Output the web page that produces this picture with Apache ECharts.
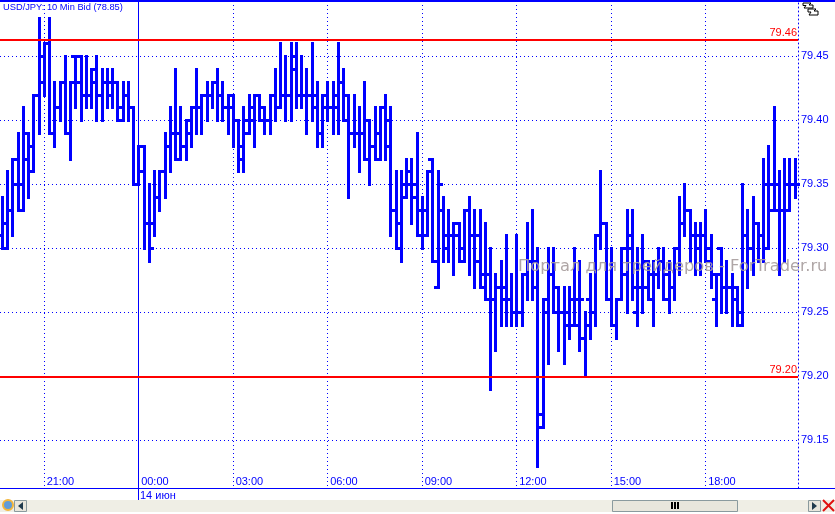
<!DOCTYPE html>
<html><head><meta charset="utf-8">
<style>html,body{margin:0;padding:0;background:#fff}#c{width:835px;height:514px}</style>
<script src="https://cdn.jsdelivr.net/npm/echarts@6/dist/echarts.min.js"></script>
</head><body><div id="c"></div>
<script>
const chartTitle = 'USD/JPY: 10 Min Bid (78.85)';
const watermark = 'Портал для трейдеров - ForTrader.ru';
const dateLabel = '14 июн';
const priceTicks = [79.15, 79.20, 79.25, 79.30, 79.35, 79.40, 79.45];
const timeTicks = ['21:00','00:00','03:00','06:00','09:00','12:00','15:00','18:00'];
const redLevels = [79.463, 79.199];
const redLabels = ['79.46', '79.20'];
const highs = [
79.34,79.36,79.37,79.39,79.41,79.39,79.42,79.48,79.46,79.48,79.43,79.43,79.45,79.43,79.45,79.45,79.45,79.44,79.45,79.44,
79.44,79.44,79.43,79.43,79.43,79.41,79.38,79.38,79.35,79.36,79.36,79.39,79.41,79.44,79.41,79.40,79.41,79.44,79.42,79.43,
79.43,79.44,79.43,79.42,79.42,79.40,79.41,79.42,79.42,79.42,79.41,79.42,79.44,79.46,79.45,79.46,79.46,79.45,79.44,79.46,
79.43,79.42,79.43,79.43,79.46,79.44,79.42,79.42,79.41,79.43,79.40,79.41,79.41,79.42,79.41,79.36,79.36,79.37,79.37,79.39,
79.34,79.36,79.37,79.36,79.34,79.33,79.32,79.32,79.33,79.34,79.33,79.33,79.32,79.30,79.28,79.29,79.31,79.28,79.31,79.28,
79.32,79.33,79.30,79.26,79.30,79.30,79.27,79.27,79.27,79.30,79.29,79.25,79.28,79.31,79.36,79.32,79.30,79.26,79.30,79.33,
79.33,79.30,79.31,79.29,79.29,79.30,79.30,79.29,79.30,79.34,79.35,79.33,79.32,79.32,79.33,79.31,79.28,79.30,79.29,79.28,
79.27,79.35,79.33,79.34,79.32,79.37,79.38,79.41,79.36,79.37,79.37,79.37];
const lows = [
79.30,79.30,79.31,79.33,79.33,79.34,79.36,79.39,79.42,79.39,79.38,79.40,79.39,79.37,79.41,79.40,79.41,79.41,79.40,79.40,
79.41,79.41,79.40,79.40,79.40,79.35,79.35,79.30,79.29,79.31,79.33,79.34,79.36,79.37,79.37,79.37,79.38,79.39,79.39,79.40,
79.41,79.40,79.40,79.39,79.38,79.36,79.36,79.39,79.38,79.40,79.39,79.39,79.40,79.41,79.40,79.40,79.41,79.41,79.39,79.40,
79.38,79.38,79.40,79.39,79.39,79.40,79.34,79.38,79.36,79.37,79.35,79.37,79.37,79.37,79.31,79.30,79.29,79.34,79.32,79.31,
79.30,79.31,79.29,79.27,79.29,79.29,79.28,79.29,79.29,79.28,79.27,79.27,79.26,79.19,79.22,79.24,79.24,79.24,79.24,79.24,
79.26,79.26,79.13,79.16,79.21,79.25,79.22,79.21,79.23,79.24,79.22,79.20,79.23,79.24,79.30,79.26,79.24,79.23,79.26,79.25,
79.26,79.24,79.25,79.26,79.24,79.27,79.26,79.25,79.26,79.28,79.31,79.29,79.28,79.28,79.29,79.27,79.24,79.25,79.25,79.24,
79.24,79.24,79.27,79.28,79.29,79.29,79.30,79.33,79.28,79.29,79.33,79.34];
const opens = [
79.31,79.30,79.33,79.37,79.33,79.37,79.36,79.42,79.43,79.46,79.39,79.41,79.43,79.39,79.45,79.45,79.42,79.42,79.44,79.42,
79.43,79.42,79.43,79.40,79.42,79.41,79.35,79.36,79.32,79.32,79.34,79.36,79.38,79.39,79.39,79.38,79.40,79.41,79.41,79.42,
79.42,79.43,79.42,79.41,79.41,79.40,79.38,79.39,79.41,79.42,79.40,79.40,79.42,79.41,79.42,79.42,79.44,79.42,79.42,79.42,
79.42,79.39,79.42,79.41,79.42,79.43,79.40,79.39,79.39,79.39,79.40,79.38,79.39,79.41,79.38,79.33,79.32,79.34,79.35,79.34,
79.33,79.31,79.37,79.27,79.33,79.30,79.31,79.31,79.29,79.33,79.31,79.31,79.28,79.28,79.26,79.27,79.27,79.26,79.25,79.25,
79.28,79.29,79.29,79.17,79.26,79.28,79.25,79.25,79.24,79.26,79.26,79.23,79.26,79.25,79.31,79.32,79.26,79.24,79.26,79.28,
79.31,79.25,79.27,79.27,79.28,79.28,79.29,79.26,79.27,79.30,79.32,79.33,79.31,79.31,79.31,79.29,79.26,79.30,79.27,79.27,
79.26,79.24,79.31,79.30,79.32,79.31,79.30,79.33,79.33,79.33,79.33,79.35];
const closes = [
79.32,79.33,79.35,79.35,79.39,79.38,79.42,79.45,79.46,79.39,79.41,79.43,79.39,79.43,79.43,79.42,79.42,79.43,79.42,79.43,
79.43,79.43,79.41,79.42,79.41,79.35,79.38,79.32,79.30,79.34,79.36,79.38,79.39,79.37,79.38,79.39,79.41,79.41,79.42,79.42,
79.43,79.42,79.41,79.42,79.40,79.37,79.40,79.40,79.42,79.41,79.40,79.42,79.41,79.42,79.42,79.45,79.42,79.42,79.42,79.41,
79.39,79.41,79.41,79.41,79.43,79.42,79.39,79.39,79.39,79.37,79.38,79.37,79.41,79.40,79.33,79.30,79.35,79.36,79.35,79.31,
79.33,79.36,79.29,79.35,79.31,79.31,79.32,79.30,79.33,79.31,79.29,79.27,79.26,79.26,79.27,79.26,79.26,79.25,79.25,79.28,
79.29,79.27,79.16,79.25,79.28,79.27,79.25,79.25,79.24,79.24,79.26,79.24,79.25,79.31,79.32,79.26,79.24,79.26,79.30,79.30,
79.27,79.27,79.29,79.26,79.28,79.29,79.28,79.27,79.30,79.32,79.33,79.31,79.30,79.31,79.30,79.28,79.28,79.27,79.27,79.27,
79.25,79.31,79.30,79.32,79.31,79.35,79.35,79.35,79.33,79.35,79.35,79.35];

// Categories: 10-minute bars starting at 19:40.
const categories = [];
for (let i = 0; i < highs.length; i++) {
  const m = (19 * 60 + 40 + i * 10) % 1440;
  categories.push(String(Math.floor(m / 60)).padStart(2, '0') + ':' + String(m % 60).padStart(2, '0'));
}
const BLUE = '#0000ff', RED = '#ff0000', FONT = '"Liberation Sans", Arial, sans-serif';
const barData = highs.map((h, i) => [i, opens[i], h, lows[i], closes[i]]);
const DOT = [1, 3];

const chart = echarts.init(document.getElementById('c'), null, {renderer: 'canvas', width: 835, height: 514});
chart.setOption({
  animation: false,
  backgroundColor: '#ffffff',
  grid: {left: 0, right: 37, top: 1, bottom: 26, containLabel: false},
  xAxis: {
    type: 'category', data: categories, boundaryGap: true, position: 'bottom',
    axisLine: {show: false}, axisTick: {show: false},
    axisLabel: {
      inside: true, margin: 1, align: 'left', padding: [0, 0, 0, 2],
      color: BLUE, fontFamily: FONT, fontSize: 11, hideOverlap: false,
      interval: (i, v) => timeTicks.includes(v)
    },
    splitLine: {show: false}
  },
  yAxis: {
    type: 'value', position: 'right', min: 79.1125, max: 79.4932, scale: true,
    axisLine: {show: true, onZero: false, lineStyle: {color: BLUE, type: DOT, width: 1}},
    axisTick: {show: false},
    axisLabel: {customValues: priceTicks, margin: 3, padding: [2, 0, 0, 0], color: BLUE, fontFamily: FONT, fontSize: 11,
      formatter: v => v.toFixed(2)},
    splitLine: {show: false}
  },
  series: [
    { // horizontal dotted price grid
      type: 'custom', z: 1, silent: true, clip: false, data: priceTicks.map(v => [0, v]),
      encode: {y: 1},
      renderItem: (p, api) => {
        const y = Math.round(api.coord([0, api.value(1)])[1]) + 0.5;
        return {type: 'line', shape: {x1: p.coordSys.x, y1: y, x2: p.coordSys.x + p.coordSys.width, y2: y},
          style: {stroke: BLUE, lineWidth: 1, lineDash: DOT, fill: null}};
      }
    },
    { // vertical time grid; midnight is solid
      type: 'custom', z: 1, silent: true, clip: false, data: timeTicks.map(t => [categories.indexOf(t), 0]),
      encode: {x: 0},
      renderItem: (p, api) => {
        const i = api.value(0);
        const x = Math.floor(api.coord([i, 79.3])[0] - 0.3) + 0.5;
        return {type: 'line', shape: {x1: x, y1: p.coordSys.y, x2: x, y2: p.coordSys.y + p.coordSys.height},
          style: {stroke: BLUE, lineWidth: 1, lineDash: categories[i] === '00:00' ? null : DOT, fill: null}};
      }
    },
    { // OHLC bars
      type: 'custom', z: 3, clip: false, data: barData,
      encode: {x: 0, y: [1, 2, 3, 4]},
      renderItem: (p, api) => {
        const i = api.value(0);
        const left = Math.round(api.coord([i, 79.3])[0] - 1.8);
        const yO = Math.round(api.coord([i, api.value(1)])[1]);
        const yH = Math.round(api.coord([i, api.value(2)])[1]);
        const yL = Math.round(api.coord([i, api.value(3)])[1]);
        const yC = Math.round(api.coord([i, api.value(4)])[1]);
        const s = {fill: BLUE};
        return {type: 'group', children: [
          {type: 'rect', shape: {x: left, y: yH - 1, width: 3, height: yL - yH + 3}, style: s},
          {type: 'rect', shape: {x: left - 3, y: yO - 1, width: 3, height: 3}, style: s},
          {type: 'rect', shape: {x: left + 3, y: yC - 1, width: 3, height: 3}, style: s}
        ]};
      }
    },
    { // red levels
      type: 'custom', z: 4, silent: true, clip: false, data: redLevels.map((v, i) => [i, v]),
      encode: {y: 1},
      renderItem: (p, api) => {
        const i = api.value(0);
        const y = Math.round(api.coord([0, api.value(1)])[1]);
        const r = p.coordSys.x + p.coordSys.width;
        return {type: 'group', children: [
          {type: 'rect', shape: {x: p.coordSys.x, y: y - 1, width: p.coordSys.width, height: 2}, style: {fill: RED}},
          {type: 'text', x: r - 1, y: y - 2, style: {text: redLabels[i], fill: RED, font: '11px ' + FONT, textAlign: 'right', textVerticalAlign: 'bottom'}}
        ]};
      }
    }
  ],
  graphic: {elements: [
    {type: 'rect', z: 50, shape: {x: 0, y: 0, width: 835, height: 2}, style: {fill: BLUE}},
    {type: 'rect', z: 50, shape: {x: 0, y: 488, width: 835, height: 1}, style: {fill: BLUE}},
    {type: 'rect', z: 50, shape: {x: 138, y: 488, width: 1, height: 12}, style: {fill: BLUE}},
    {type: 'text', z: 50, x: 3, y: 3, style: {text: chartTitle, fill: BLUE, font: '9.3px ' + FONT}},
    {type: 'text', z: 50, x: 140, y: 490, style: {text: dateLabel, fill: BLUE, font: '11px ' + FONT}},
    {type: 'text', z: 60, x: 518, y: 259, style: {text: watermark, fill: 'rgba(168,158,158,0.92)', font: '16.3px "DejaVu Sans", sans-serif'}},
    {type: 'rect', z: 70, shape: {x: 0, y: 500, width: 835, height: 12}, style: {fill: '#efeee5'}},
    {type: 'rect', z: 71, shape: {x: 612.5, y: 500.5, width: 125, height: 11}, style: {fill: '#e8e6dc', stroke: '#8a9a9e', lineWidth: 1}},
    {type: 'rect', z: 72, shape: {x: 671, y: 502, width: 2, height: 7}, style: {fill: '#000'}},
    {type: 'rect', z: 72, shape: {x: 674, y: 502, width: 2, height: 7}, style: {fill: '#000'}},
    {type: 'rect', z: 72, shape: {x: 677, y: 502, width: 2, height: 7}, style: {fill: '#000'}},
    {type: 'rect', z: 71, shape: {x: 14.5, y: 500.5, width: 12, height: 11}, style: {fill: '#e8e6dc', stroke: '#8a9a9e', lineWidth: 1}},
    {type: 'polygon', z: 72, shape: {points: [[18, 506], [23, 502], [23, 510]]}, style: {fill: '#1f3a4d'}},
    {type: 'rect', z: 71, shape: {x: 808.5, y: 500.5, width: 12, height: 11}, style: {fill: '#e8e6dc', stroke: '#8a9a9e', lineWidth: 1}},
    {type: 'polygon', z: 72, shape: {points: [[817, 506], [812, 502], [812, 510]]}, style: {fill: '#1f3a4d'}},
    {type: 'circle', z: 71, shape: {cx: 8, cy: 505, r: 5}, style: {fill: '#5f9bd8', stroke: '#f2b53a', lineWidth: 2}},
    {type: 'line', z: 72, shape: {x1: 823, y1: 500, x2: 834, y2: 511}, style: {stroke: '#e01010', lineWidth: 2}},
    {type: 'line', z: 72, shape: {x1: 834, y1: 500, x2: 823, y2: 511}, style: {stroke: '#e01010', lineWidth: 2}},
    {type: 'polygon', z: 72, shape: {points: [[803, 3], [811, 3], [809, 5], [813, 5], [813, 8], [804, 8], [806, 5.5], [803, 5.5]]}, style: {fill: '#fff', stroke: '#000', lineWidth: 1}},
    {type: 'polygon', z: 72, shape: {points: [[808, 9], [816, 9], [814, 11], [818, 11], [818, 15], [809, 15], [811, 12], [808, 12]]}, style: {fill: '#fff', stroke: '#000', lineWidth: 1}}
  ]}
});
</script></body></html>
